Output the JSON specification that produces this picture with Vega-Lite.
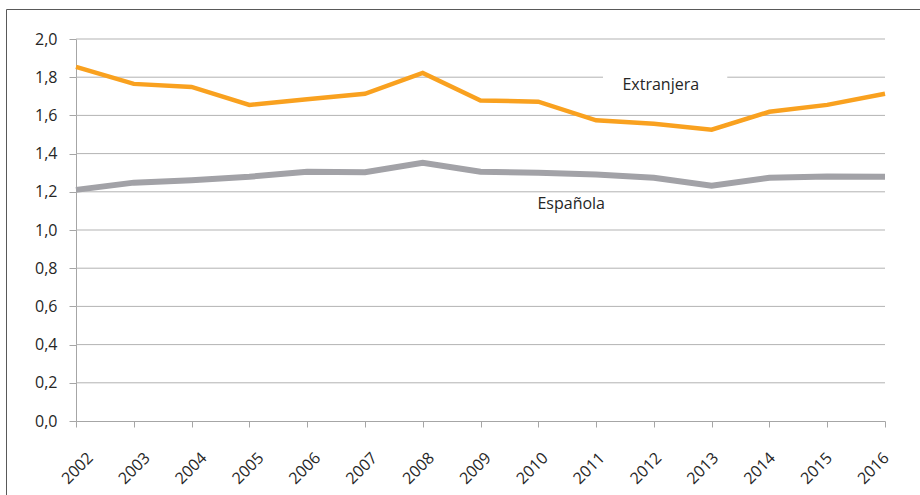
{
  "$schema": "https://vega.github.io/schema/vega-lite/v6.json",
  "width": 914,
  "height": 486,
  "autosize": {"type": "none"},
  "padding": {"left": 6, "top": 9, "right": 0, "bottom": 0},
  "config": {
    "locale": {"number": {"decimal": ",", "thousands": ".", "grouping": [3], "currency": ["", " €"]}},
    "view": {"stroke": "#595959", "strokeWidth": 1},
    "font": "Open Sans"
  },
  "datasets": {
    "series": [
      {"year": 2002, "nat": "Extranjera", "value": 1.854},
      {"year": 2003, "nat": "Extranjera", "value": 1.765},
      {"year": 2004, "nat": "Extranjera", "value": 1.749},
      {"year": 2005, "nat": "Extranjera", "value": 1.655},
      {"year": 2006, "nat": "Extranjera", "value": 1.684},
      {"year": 2007, "nat": "Extranjera", "value": 1.713},
      {"year": 2008, "nat": "Extranjera", "value": 1.822},
      {"year": 2009, "nat": "Extranjera", "value": 1.678},
      {"year": 2010, "nat": "Extranjera", "value": 1.672},
      {"year": 2011, "nat": "Extranjera", "value": 1.574},
      {"year": 2012, "nat": "Extranjera", "value": 1.556},
      {"year": 2013, "nat": "Extranjera", "value": 1.525},
      {"year": 2014, "nat": "Extranjera", "value": 1.619},
      {"year": 2015, "nat": "Extranjera", "value": 1.655},
      {"year": 2016, "nat": "Extranjera", "value": 1.713},
      {"year": 2002, "nat": "Española", "value": 1.21},
      {"year": 2003, "nat": "Española", "value": 1.248},
      {"year": 2004, "nat": "Española", "value": 1.261},
      {"year": 2005, "nat": "Española", "value": 1.279},
      {"year": 2006, "nat": "Española", "value": 1.305},
      {"year": 2007, "nat": "Española", "value": 1.302},
      {"year": 2008, "nat": "Española", "value": 1.352},
      {"year": 2009, "nat": "Española", "value": 1.305},
      {"year": 2010, "nat": "Española", "value": 1.3},
      {"year": 2011, "nat": "Española", "value": 1.29},
      {"year": 2012, "nat": "Española", "value": 1.274},
      {"year": 2013, "nat": "Española", "value": 1.232},
      {"year": 2014, "nat": "Española", "value": 1.274},
      {"year": 2015, "nat": "Española", "value": 1.28},
      {"year": 2016, "nat": "Española", "value": 1.279}
    ],
    "grid": [
      {"value": 0.2}, {"value": 0.4}, {"value": 0.6}, {"value": 0.8}, {"value": 1.0},
      {"value": 1.2}, {"value": 1.4}, {"value": 1.6}, {"value": 1.8}, {"value": 2.0}
    ],
    "one": [{}]
  },
  "layer": [
    {
      "data": {"name": "grid"},
      "mark": {"type": "rule", "color": "#b3b3b3", "strokeWidth": 1},
      "encoding": {
        "y": {
          "field": "value", "type": "quantitative", "title": null,
          "scale": {"domain": [0, 2], "range": [412, 30], "nice": false, "zero": true},
          "axis": {
            "orient": "left", "offset": -70, "title": null, "grid": false,
            "values": [0, 0.2, 0.4, 0.6, 0.8, 1.0, 1.2, 1.4, 1.6, 1.8, 2.0],
            "format": ".1f", "domainColor": "#a6a6a6", "tickColor": "#a6a6a6",
            "tickSize": 7, "labelPadding": 12, "labelFontSize": 16, "labelColor": "#262626",
            "labelFont": "Open Sans"
          }
        },
        "x": {
          "datum": 2002, "type": "quantitative", "title": null,
          "scale": {"type": "linear", "domain": [2002, 2016], "range": [70, 879], "nice": false, "zero": false},
          "axis": {
            "orient": "bottom", "offset": -74, "title": null, "grid": false,
            "values": [2002, 2003, 2004, 2005, 2006, 2007, 2008, 2009, 2010, 2011, 2012, 2013, 2014, 2015, 2016],
            "format": "d", "labelAngle": -45, "labelAlign": "right", "labelBaseline": "middle",
            "labelOffset": {"expr": "14 - 0.93 * (datum.value - 2002)"},
            "domainColor": "#a6a6a6", "tickColor": "#a6a6a6",
            "tickSize": 6, "labelPadding": 28, "labelFontSize": 16, "labelColor": "#262626",
            "labelFont": "Open Sans"
          }
        },
        "x2": {"datum": 2016}
      }
    },
    {
      "data": {"name": "one"},
      "mark": {"type": "rect", "fill": "white"},
      "encoding": {
        "x": {"datum": 2011.12, "type": "quantitative", "title": null},
        "x2": {"datum": 2013.27},
        "y": {"datum": 1.68, "type": "quantitative", "title": null},
        "y2": {"datum": 1.87}
      }
    },
    {
      "data": {"name": "series"},
      "mark": {"type": "line", "strokeJoin": "miter"},
      "encoding": {
        "x": {"field": "year", "type": "quantitative", "title": null},
        "y": {"field": "value", "type": "quantitative", "title": null},
        "color": {
          "field": "nat", "type": "nominal", "legend": null,
          "scale": {"domain": ["Extranjera", "Española"], "range": ["#f9a11f", "#a2a2a7"]}
        },
        "strokeWidth": {
          "field": "nat", "type": "nominal", "legend": null,
          "scale": {"domain": ["Extranjera", "Española"], "range": [4.5, 6]}
        }
      }
    },
    {
      "data": {"name": "one"},
      "mark": {"type": "text", "fontSize": 16, "color": "#262626", "font": "Open Sans", "align": "center", "baseline": "middle"},
      "encoding": {
        "x": {"datum": 2012.12, "type": "quantitative", "title": null},
        "y": {"datum": 1.759, "type": "quantitative", "title": null},
        "text": {"value": "Extranjera"}
      }
    },
    {
      "data": {"name": "one"},
      "mark": {"type": "text", "fontSize": 16, "color": "#262626", "font": "Open Sans", "align": "center", "baseline": "middle"},
      "encoding": {
        "x": {"datum": 2010.57, "type": "quantitative", "title": null},
        "y": {"datum": 1.136, "type": "quantitative", "title": null},
        "text": {"value": "Española"}
      }
    }
  ]
}
